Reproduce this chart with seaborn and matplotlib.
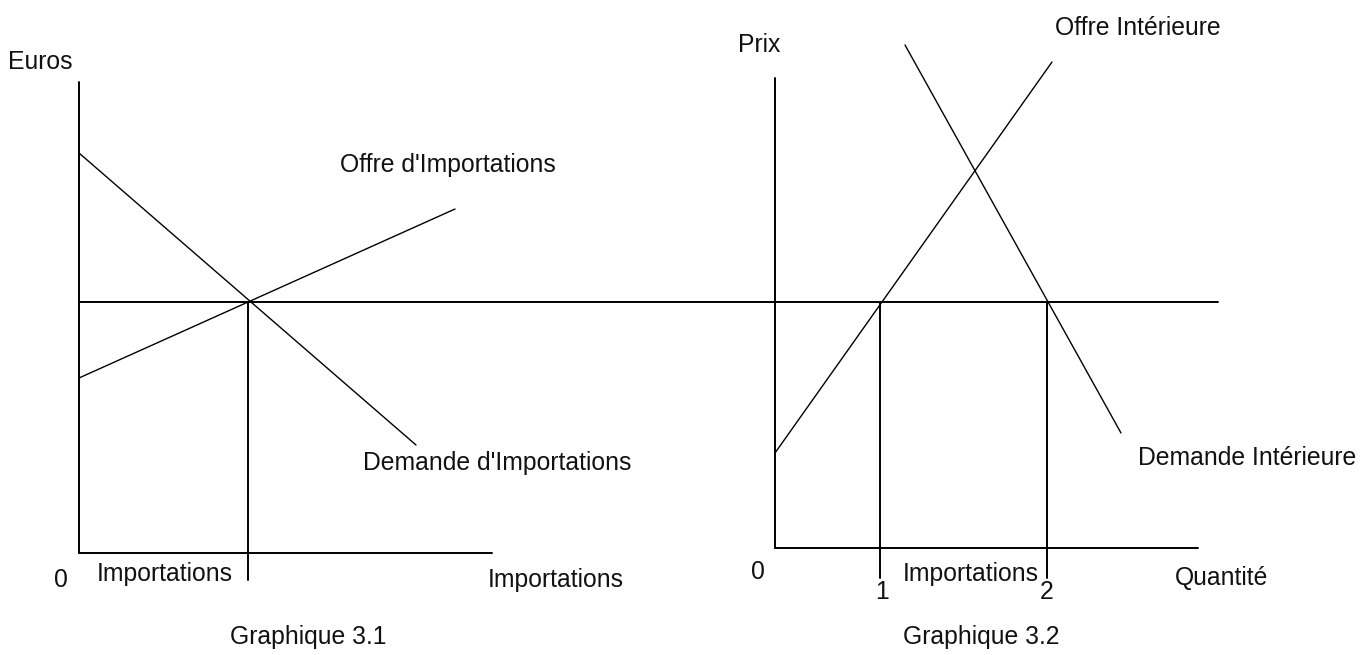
import numpy as np
import pandas as pd
import seaborn as sns
import matplotlib.pyplot as plt

sns.set_style("white")
plt.rcParams['font.family'] = ['Liberation Sans', 'DejaVu Sans']

# segments of the diagram (x0, x1), (y0, y1) in drawing units (y grows downward)
axes_left_y = ([79, 79], [82, 553])
axes_left_x = ([79, 492], [553, 553])
axes_right_y = ([775, 775], [78, 548])
axes_right_x = ([775, 1198], [548, 548])
world_price = ([79, 1218], [302, 302])

demande_import = ([79, 416], [153, 445])
offre_import = ([79, 455], [378, 209])
offre_int = ([775, 1052], [453, 62])
demande_int = ([905, 1121], [45, 433])

guide_import = ([248, 248], [302, 580])
guide_q1 = ([880, 880], [302, 578])
guide_q2 = ([1047, 1047], [302, 578])

# labels: text, x, y
label_text = ["Euros", "Offre d'Importations", "Demande d'Importations", "0",
              "Importations", "Importations", "Graphique 3.1",
              "Prix", "Offre Intérieure", "Demande Intérieure", "0", "1",
              "Importations", "2", "Quantité", "Graphique 3.2"]
label_x = [8, 340, 363, 54, 97, 488, 230,
           738, 1055, 1138, 751, 875, 903, 1040, 1175, 903]
label_y = [62, 165, 463, 580, 574, 580, 637,
           45, 28, 458, 572, 592, 574, 592, 578, 637]

fig = plt.figure(figsize=(13.63, 6.55), dpi=100)
ax = fig.add_axes([0, 0, 1, 1])

thick = [axes_left_y, axes_left_x, axes_right_y, axes_right_x, world_price,
         guide_import, guide_q1, guide_q2]
thin = [demande_import, offre_import, offre_int, demande_int]

for seg in thick:
    sns.lineplot(x=seg[0], y=seg[1], sort=False, estimator=None,
                 color='black', linewidth=1.4, ax=ax)
for seg in thin:
    sns.lineplot(x=seg[0], y=seg[1], sort=False, estimator=None,
                 color='black', linewidth=1.0, ax=ax)

for t, x, y in zip(label_text, label_x, label_y):
    ax.text(x, y, t, ha='left', va='center', fontsize=17.8, color='#111111')

ax.set_xlim(0, 1363)
ax.set_ylim(655, 0)
ax.axis('off')

fig.savefig('out.png', dpi=100)
